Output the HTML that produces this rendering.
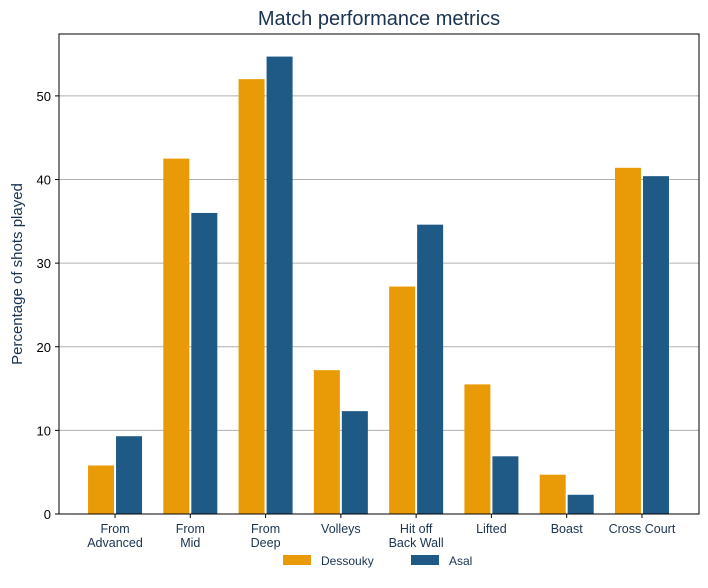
<!DOCTYPE html>
<html><head><meta charset="utf-8"><style>
body{margin:0;background:#fff;font-family:"Liberation Sans",sans-serif;}
svg text{font-family:"Liberation Sans",sans-serif;}
</style></head><body>
<svg id="chart" width="708" height="583">
<text x="379" y="25" text-anchor="middle" font-size="20" fill="#1a3350">Match performance metrics</text>
<g id="grid"></g><g id="bars"></g><g id="axes"></g>
<text transform="translate(22,274) rotate(-90)" text-anchor="middle" font-size="15" fill="#1a3350">Percentage of shots played</text>
<g>
<rect x="283" y="555" width="28" height="10" fill="#E89B06"/>
<text x="321" y="565" font-size="12" fill="#1a3350">Dessouky</text>
<rect x="411" y="555" width="28" height="10" fill="#1F5985"/>
<text x="449" y="565" font-size="12" fill="#1a3350">Asal</text>
</g>
</svg>
<script>
const categories=[["From","Advanced"],["From","Mid"],["From","Deep"],["Volleys"],["Hit off","Back Wall"],["Lifted"],["Boast"],["Cross Court"]];
const dessouky=[5.8,42.5,52.0,17.2,27.2,15.5,4.7,41.4];
const asal=[9.3,36.0,54.7,12.3,34.6,6.9,2.3,40.4];
const yTicks=[0,10,20,30,40,50];
const NS="http://www.w3.org/2000/svg";
const L=59,R=699,T=34,B=514,yMax=57.4;
const BL=77.4,BR=679.6;
const y=v=>B-(v/yMax)*(B-T);
const step=(BR-BL)/categories.length;
const cx=i=>BL+step*(i+0.5);
function mk(tag,attrs,parent){const e=document.createElementNS(NS,tag);for(const k in attrs)e.setAttribute(k,attrs[k]);parent.appendChild(e);return e;}
const grid=document.getElementById('grid'),bars=document.getElementById('bars'),axes=document.getElementById('axes');
yTicks.forEach(t=>{
  if(t>0){const g=mk('line',{x1:L,x2:R,y1:y(t),y2:y(t),stroke:'#b0b0b0','stroke-width':1},grid);
  
  }
  const tk=mk('line',{x1:L-4,x2:L,y1:y(t),y2:y(t),stroke:'#000'},axes);
  
  
  const tx=mk('text',{x:L-8,y:y(t)+5,'text-anchor':'end','font-size':13,fill:'#000'},axes);
  tx.textContent=t;
  
  
});
const bw=26;
categories.forEach((c,i)=>{
  const b1=mk('rect',{x:cx(i)-bw-1,y:y(dessouky[i]),width:bw,height:B-y(dessouky[i]),fill:'#E89B06'},bars);
  
  
  const b2=mk('rect',{x:cx(i)+1,y:y(asal[i]),width:bw,height:B-y(asal[i]),fill:'#1F5985'},bars);
  
  
  const tk=mk('line',{x1:cx(i),x2:cx(i),y1:B,y2:B+4,stroke:'#000'},axes);
  
  
  c.forEach((line,j)=>{
    const tx=mk('text',{x:cx(i),y:B+19+j*14,'text-anchor':'middle','font-size':12.5,fill:'#1a3350'},axes);
    tx.textContent=line;
    
    
  });
});
const fr=mk('rect',{x:L,y:T,width:R-L,height:B-T,fill:'none',stroke:'#000','stroke-width':1},axes);


</script>
</body></html>
